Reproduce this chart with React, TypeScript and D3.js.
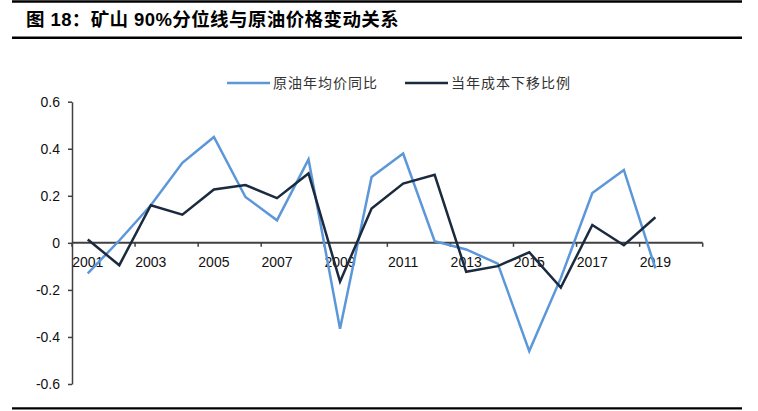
import * as d3 from 'd3'
import { useEffect, useRef } from 'react'

const WIDTH = 758
const HEIGHT = 411

const TITLE = '图 18：矿山 90%分位线与原油价格变动关系'
const SERIES_NAMES = ['原油年均价同比', '当年成本下移比例']
const SERIES_COLORS = ['#5b97d9', '#1b2a3e']

// 2020 is an empty slot on the category axis
const categories = [
  '2001', '2002', '2003', '2004', '2005', '2006', '2007', '2008', '2009', '2010',
  '2011', '2012', '2013', '2014', '2015', '2016', '2017', '2018', '2019', '2020',
]

const oilYoY = [
  -0.13, 0.01, 0.16, 0.34, 0.45, 0.195, 0.096, 0.355, -0.365, 0.28,
  0.38, 0.007, -0.028, -0.088, -0.46, -0.15, 0.212, 0.31, -0.109,
]

const costShift = [
  0.014, -0.095, 0.16, 0.12, 0.227, 0.246, 0.19, 0.295, -0.165, 0.146,
  0.252, 0.289, -0.123, -0.099, -0.04, -0.19, 0.076, -0.01, 0.109,
]

const yTicks = [0.6, 0.4, 0.2, 0, -0.2, -0.4, -0.6]

const PLOT_LEFT = 72
const PLOT_RIGHT = 702.7
const PLOT_TOP = 101.7
const PLOT_BOTTOM = 384
const AXIS_COLOR = '#404040'
const LATIN_FONT = '"Liberation Sans", Arial, sans-serif'
const CJK_FONT = '"Liberation Sans", "Noto Sans CJK SC", sans-serif'

export default function App() {
  const svgRef = useRef<SVGSVGElement>(null)

  useEffect(() => {
    if (!svgRef.current) return
    const svg = d3.select(svgRef.current)
    svg.selectAll('*').remove()

    const x = d3.scaleBand<string>()
      .domain(categories)
      .range([PLOT_LEFT, PLOT_RIGHT])
      .padding(0)

    const y = d3.scaleLinear()
      .domain([-0.6, 0.6])
      .range([PLOT_BOTTOM, PLOT_TOP])

    const cx = (c: string) => (x(c) ?? 0) + x.bandwidth() / 2

    // Header rules and title
    const rule = (yy: number, w: number) =>
      svg.append('line')
        .attr('x1', 12).attr('x2', 742)
        .attr('y1', yy).attr('y2', yy)
        .attr('stroke', '#000').attr('stroke-width', w)
    rule(1.5, 2.5)
    rule(37.7, 2.5)
    rule(408.3, 2.2)

    svg.append('text')
      .attr('x', 26)
      .attr('y', 26)
      .attr('font-family', CJK_FONT)
      .attr('font-weight', 'bold')
      .attr('font-size', 18.5)
      .attr('letter-spacing', 0.4)
      .attr('fill', '#000')
      .text(TITLE)

    // Legend
    const legendX = [227, 405]
    SERIES_NAMES.forEach((name, i) => {
      const g = svg.append('g').attr('transform', `translate(${legendX[i]}, 83)`)
      g.append('line')
        .attr('x1', 0).attr('x2', 43)
        .attr('y1', 0).attr('y2', 0)
        .attr('stroke', SERIES_COLORS[i])
        .attr('stroke-width', 2.5)
      g.append('text')
        .attr('x', 46)
        .attr('y', 0)
        .attr('dy', '0.35em')
        .attr('font-family', '"Noto Sans CJK SC", sans-serif')
        .attr('font-size', 14)
        .attr('letter-spacing', 1)
        .attr('fill', '#333')
        .text(name)
    })

    // Y axis
    const yAxis = svg.append('g')
      .attr('transform', `translate(${PLOT_LEFT},0)`)
      .call(
        d3.axisLeft(y)
          .tickValues(yTicks)
          .tickSize(4)
          .tickPadding(8)
          .tickSizeOuter(0)
          .tickFormat(d => (Number(d) === 0 ? '0' : Number(d).toFixed(1)))
      )
    yAxis.select('.domain').attr('stroke', AXIS_COLOR).attr('stroke-width', 1.5)
    yAxis.selectAll('.tick line').attr('stroke', AXIS_COLOR).attr('stroke-width', 1.5)
    yAxis.selectAll('.tick text')
      .attr('font-family', LATIN_FONT)
      .attr('font-size', 14)
      .attr('fill', '#111')

    // X axis at zero
    const y0 = y(0)
    const xAxis = svg.append('g')
    xAxis.append('line')
      .attr('x1', PLOT_LEFT).attr('x2', PLOT_RIGHT)
      .attr('y1', y0).attr('y2', y0)
      .attr('stroke', AXIS_COLOR)
      .attr('stroke-width', 2)
    const tickCats = categories.filter((_, i) => i % 2 === 0)
    const tickXs = [...tickCats.map(c => x(c) ?? 0), PLOT_RIGHT]
    xAxis.selectAll('.xt')
      .data(tickXs)
      .enter()
      .append('line')
      .attr('x1', d => d).attr('x2', d => d)
      .attr('y1', y0).attr('y2', y0 + 4)
      .attr('stroke', AXIS_COLOR)
      .attr('stroke-width', 1.5)
    xAxis.selectAll('.xl')
      .data(tickCats)
      .enter()
      .append('text')
      .attr('x', d => cx(d))
      .attr('y', y0 + 24.5)
      .attr('text-anchor', 'middle')
      .attr('font-family', LATIN_FONT)
      .attr('font-size', 14)
      .attr('fill', '#111')
      .text(d => d)

    // Lines
    const line = d3.line<number>()
      .x((_, i) => cx(categories[i]))
      .y(d => y(d))

    ;[oilYoY, costShift].forEach((vals, i) => {
      svg.append('path')
        .datum(vals)
        .attr('d', line)
        .attr('fill', 'none')
        .attr('stroke', SERIES_COLORS[i])
        .attr('stroke-width', 2.5)
        .attr('stroke-linejoin', 'miter')
    })
  }, [])

  return (
    <svg
      ref={svgRef}
      width={WIDTH}
      height={HEIGHT}
      style={{ position: 'absolute', left: 0, top: 0, background: '#fff' }}
    />
  )
}
